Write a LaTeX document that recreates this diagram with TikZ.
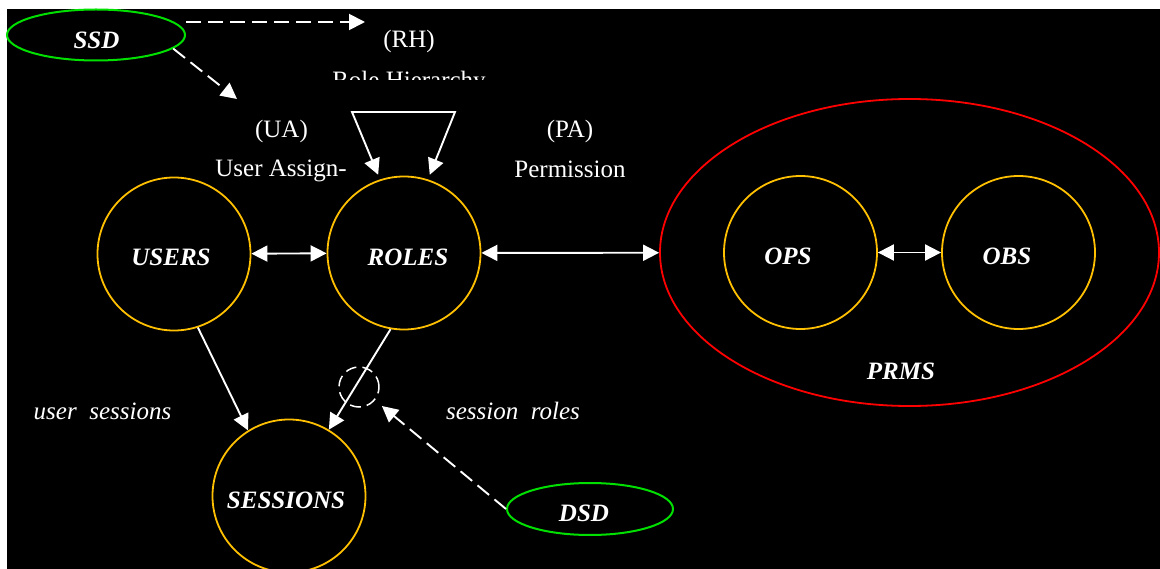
\documentclass[tikz,border=0pt]{standalone}
\usepackage{fontspec}
\setmainfont{Liberation Serif}
\usetikzlibrary{arrows.meta,shapes.geometric}
\definecolor{ringgold}{HTML}{FFC000}
\definecolor{setred}{HTML}{FF0000}
\definecolor{sodgreen}{HTML}{00E000}

\begin{document}
\begin{tikzpicture}[x=1pt,y=-1pt,
  ring/.style={circle, draw=ringgold, line width=1.8pt, minimum size=153pt, inner sep=0pt},
  sodring/.style={ellipse, draw=sodgreen, line width=2pt, inner sep=0pt},
  tip/.tip={Triangle[length=16pt,width=16pt]},
  conn/.style={draw=white, line width=1.9pt, -tip},
  dconn/.style={conn, dash pattern=on 15pt off 7pt},
  plain/.style={text=white, inner sep=0pt, anchor=base, font=\fontsize{25}{30}\selectfont},
  ital/.style={plain, font=\fontsize{25}{30}\selectfont\itshape},
  bold/.style={plain, font=\fontsize{25}{30}\selectfont\bfseries\itshape}
]
% canvas
\useasboundingbox (0,0) rectangle (1160,569);
\fill[white] (0,0) rectangle (1160,569);
\fill[black] (7,9) rectangle (1160,569);

% element sets
\node[ring] (users) at (174,254) {};
\node[ring] (roles) at (404,253) {};
\node[ring] (sessions) at (289,496) {};
\node[ellipse, draw=setred, line width=1.8pt, minimum width=499pt, minimum height=307pt, inner sep=0pt] (prms) at (909.5,252.5) {};
\node[ring] (ops) at (800.5,252.5) {};
\node[ring] (obs) at (1018.5,252.5) {};

% separation of duty constraints
\node[sodring, minimum width=178pt, minimum height=51pt] (ssd) at (96,35) {};
\node[sodring, minimum width=166pt, minimum height=52pt] (dsd) at (590,509) {};
\node[circle, draw=white, line width=1.5pt, dash pattern=on 11pt off 6pt, minimum size=40pt, inner sep=0pt] (pick) at (359,387) {};

% labels of the sets
\node[bold] (usersl) at (171,266) {USERS};
\node[bold] (rolesl) at (408,266) {ROLES};
\node[bold] (sessionsl) at (286,508) {SESSIONS};
\node[bold] (opsl) at (788,265) {OPS};
\node[bold] (obsl) at (1007,265) {OBS};
\node[bold] (prmsl) at (901,380) {PRMS};
\node[bold] (ssdl) at (96.5,48.5) {SSD};
\node[bold] (dsdl) at (584,521.5) {DSD};

% relation labels
\node[plain] (rh) at (409,47.5) {(RH)};
\begin{scope}
  \clip (300,60) rectangle (520,80);
  \node[plain] (rhname) at (409,88.5) {Role Hierarchy};
\end{scope}
\node[plain] (ua) at (281.5,137.5) {(UA)};
\node[plain] (uaname) at (281,177) {User Assign-};
\node[plain] (pa) at (570,137.5) {(PA)};
\node[plain] (paname) at (570,178) {Permission};
\node[ital] (usl) at (102.5,419) {user\ \ sessions};
\node[ital] (srl) at (513,419) {session\ \ roles};

% assignments
\draw[conn, tip-tip] (users) -- (roles);
\draw[conn, tip-tip] (roles) -- (prms);
\draw[conn, tip-tip] (ops) -- (obs);
\draw[conn] (users.-72) -- (sessions.122);
\draw[conn] (roles.-100) -- (sessions.59);

% role hierarchy loop
\coordinate (rhL) at (352,112);
\coordinate (rhR) at (455,112);
\draw[conn, line join=miter, tip-tip, shorten <=5pt, shorten >=5pt]
  (roles.108) -- (rhL) -- (rhR) -- (roles.72);

% constraint arrows
\coordinate (rhs) at (186,22);
\coordinate (rhe) at (365,22);
\coordinate (uat) at (237,99);
\draw[dconn] (rhs) -- (rhe);
\draw[dconn] (ssd.-10) -- (uat);
\draw[dconn, shorten >=9pt] (dsd.west) -- (pick);
\end{tikzpicture}
\end{document}
